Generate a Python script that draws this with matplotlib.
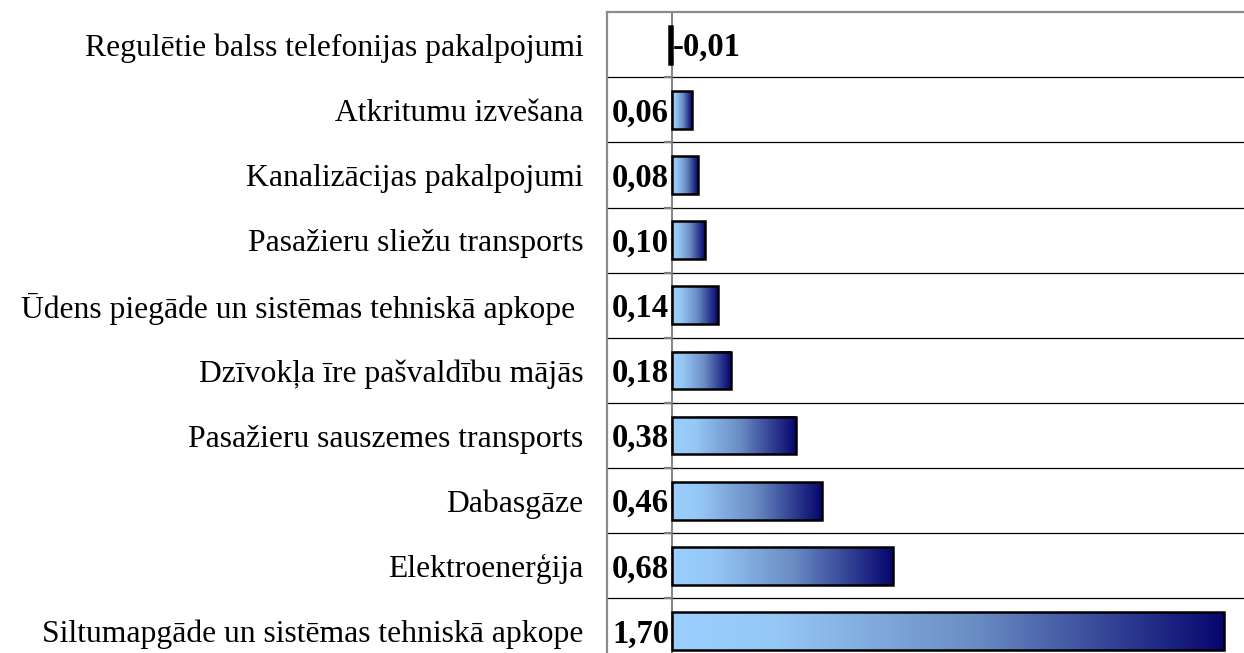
import numpy as np
import matplotlib.pyplot as plt
from matplotlib.colors import LinearSegmentedColormap

# data (top to bottom)
categories = [
    "Regulētie balss telefonijas pakalpojumi",
    "Atkritumu izvešana",
    "Kanalizācijas pakalpojumi",
    "Pasažieru sliežu transports",
    "Ūdens piegāde un sistēmas tehniskā apkope ",
    "Dzīvokļa īre pašvaldību mājās",
    "Pasažieru sauszemes transports",
    "Dabasgāze",
    "Elektroenerģija",
    "Siltumapgāde un sistēmas tehniskā apkope",
]
values = [-0.01, 0.06, 0.08, 0.10, 0.14, 0.18, 0.38, 0.46, 0.68, 1.70]

plt.rcParams['font.family'] = ['Liberation Serif', 'DejaVu Serif']

fig = plt.figure(figsize=(12.44, 6.53), dpi=100)
ax = fig.add_axes([0.488, -0.0161, 0.514, 0.9975])

grad = LinearSegmentedColormap.from_list(
    "bluegrad", [(0, "#9bcfff"), (0.18, "#96c8f6"), (0.55, "#6a8cc4"), (1, "#06066e")])
g = np.linspace(0, 1, 256).reshape(1, -1)

h = 0.58
y = np.arange(len(categories))
for yi, v in zip(y, values):
    x0, x1 = min(0, v), max(0, v)
    if v > 0:
        ax.imshow(g, cmap=grad, aspect='auto', extent=[x0, x1, yi + h / 2, yi - h / 2],
                  interpolation='bilinear', zorder=2)
    ax.barh(yi, v, height=h, facecolor='none' if v > 0 else 'black',
            edgecolor='black', linewidth=1.8, zorder=3)

# value labels
for yi, v in zip(y, values):
    txt = f"{v:.2f}".replace('.', ',')
    if v >= 0:
        ax.annotate(txt, (0, yi), xytext=(-3, -3), textcoords='offset pixels',
                    ha='right', va='center', fontsize=23.5, fontweight='bold', zorder=4)
    else:
        ax.annotate(txt, (0, yi), xytext=(1, -3), textcoords='offset pixels',
                    ha='left', va='center', fontsize=23.5, fontweight='bold', zorder=4)

# category separators and zero line
for b in np.arange(0.5, len(categories), 1):
    ax.axhline(b, color='black', linewidth=0.9, zorder=1)
    ax.hlines(b, -0.025, 0, color='#808080', linewidth=1.6, zorder=1.5)
ax.axvline(0, color='#707070', linewidth=1.2, zorder=1)

ax.set_xlim(-0.2, 1.768)
ax.set_ylim(len(categories) - 0.5, -0.5)
ax.set_xticks([])
ax.set_yticks(y)
ax.set_yticklabels(categories, fontsize=22.8)
ax.tick_params(axis='y', length=0, pad=17)

for side in ['right', 'bottom']:
    ax.spines[side].set_visible(False)
for side in ['top', 'left']:
    ax.spines[side].set_color('#8c8c8c')
    ax.spines[side].set_linewidth(1.6)

fig.savefig("out.png", dpi=100)
